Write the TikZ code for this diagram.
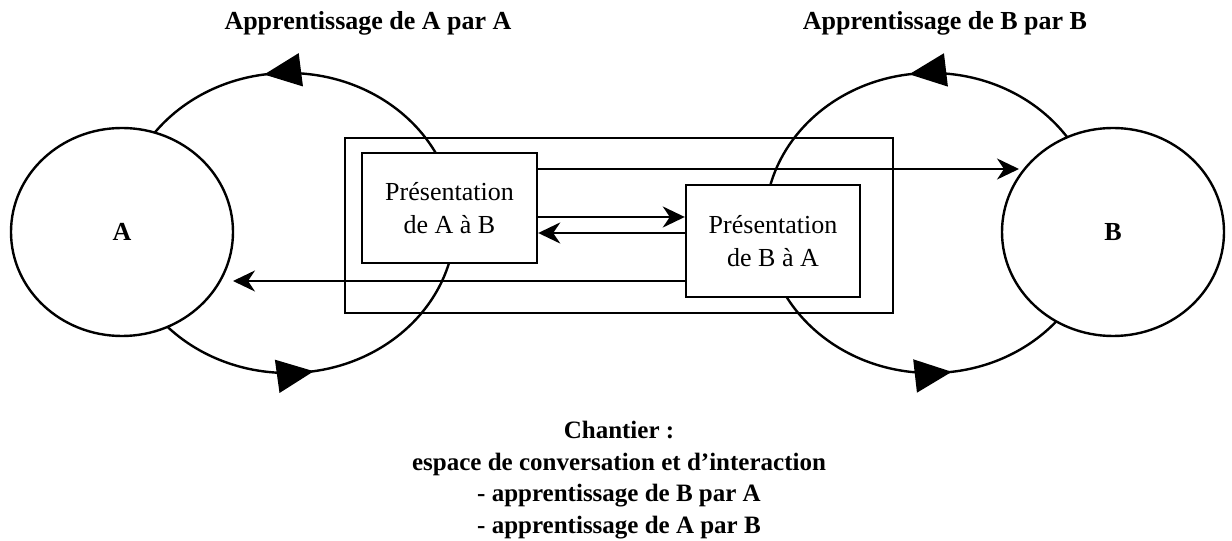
\documentclass[tikz,border=0pt]{standalone}
\usepackage{fontspec}
\setmainfont{Liberation Serif}
\usetikzlibrary{shapes.geometric,arrows.meta,decorations.markings}

\begin{document}
\begin{tikzpicture}[
	x = 1pt, y = 1pt,
	line width = 2.4pt,
	party/.style = {draw, ellipse, fill = white, inner sep = 0pt, minimum width = 222pt, minimum height = 208pt, font = \fontsize{26}{30}\selectfont\bfseries},
	pres/.style = {draw, fill = white, inner sep = 0pt, align = center, font = \fontsize{26}{33}\selectfont},
	title/.style = {inner sep = 0pt, font = \fontsize{26}{30}\selectfont\bfseries},
	flow/.style = {-{Stealth[length = 22pt, width = 21pt, inset = 7pt]}},
	learning/.style 2 args = {postaction = {decorate}, decoration = {markings,
		mark = at position #1 with {\arrow{Triangle[length = 37pt, width = 33pt]}},
		mark = at position #2 with {\arrow{Triangle[length = 37pt, width = 33pt]}}}}
	]
	\useasboundingbox (0,0) rectangle (1232,541);

	\node[draw, inner sep = 0pt, minimum width = 548pt, minimum height = 175pt] (site) at (619,315.5) {};

	\draw[learning = {0.274}{0.776}] (288,318) ellipse [x radius = 167, y radius = 150];
	\draw[learning = {0.272}{0.771}] (931,318) ellipse [x radius = 166, y radius = 150];

	\node[party] (A) at (122,309) {A};
	\node[party] (B) at (1113,309) {B};

	\node[pres, minimum width = 175pt, minimum height = 110pt] (presA) at (449.5,333) {Présentation\\de A à B};
	\node[pres, minimum width = 174pt, minimum height = 112pt] (presB) at (773,300) {Présentation\\de B à A};

	\coordinate (toB) at (1019,372);
	\coordinate (toA) at (233,260);
	\draw[flow] (presA.east |- toB) -- (toB);
	\draw[flow] (presB.west |- toA) -- (toA);
	\draw[flow] (presA.east |- 0,324) -- (presB.west |- 0,324);
	\draw[flow] (presB.west |- 0,308) -- (presA.east |- 0,308);

	\node[title, anchor = base] (titleA) at (368,511.7) {Apprentissage de A par A};
	\node[title, anchor = base] (titleB) at (945,511.7) {Apprentissage de B par B};

	\node[title, align = center, anchor = north, font = \fontsize{25}{31.7}\selectfont\bfseries] (chantier) at (619,121)
		{Chantier :\\espace de conversation et d'interaction\\- apprentissage de B par A\\- apprentissage de A par B};
\end{tikzpicture}
\end{document}
